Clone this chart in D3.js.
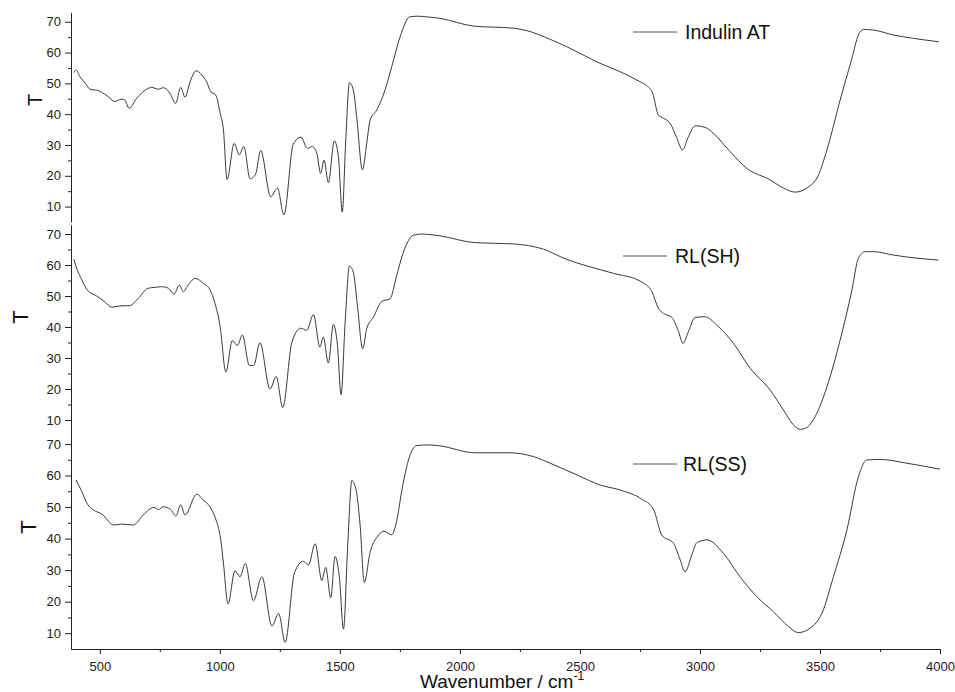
<!DOCTYPE html>
<html>
<head>
<meta charset="utf-8">
<script src="https://cdn.jsdelivr.net/npm/d3@7"></script>
<style>
body { margin: 0; background: #fff; }
svg { font-family: "Liberation Sans", Arial, sans-serif; }
</style>
</head>
<body>
<script>
// Width and height
var w = 955;
var h = 692;

// FTIR spectra, [wavenumber, T]
var indulin = [
	[392,53.5],[401,54.3],[417,52.2],[440,50],[459,48.1],[494,47.6],[530,46],[563,44.1],[591,44.9],[605,44.5],
	[622,41.9],[654,45.2],[695,48.1],[716,48.7],[744,48.1],[765,48.6],[792,46.8],[816,43.5],[837,48.7],[855,45.5],
	[876,50.5],[901,54.1],[925,52.7],[945,50.5],[962,47.3],[983,46.2],[1001,40.5],[1015,34.9],[1030,18.8],[1060,30.5],
	[1081,26.8],[1100,29.5],[1126,19.0],[1149,20.5],[1170,28.2],[1212,13.2],[1240,16.0],[1267,7.3],[1306,30.3],[1338,32.5],
	[1365,28.9],[1385,29.5],[1404,27.3],[1420,20.8],[1434,25.1],[1452,17.8],[1477,31.3],[1494,26.2],[1510,8.2],[1524,30.6],
	[1540,50.2],[1556,47.8],[1570,39.2],[1594,21.9],[1612,30.6],[1626,38.1],[1654,41.4],[1688,47.8],[1716,55.4],[1751,65.1],
	[1792,71.6],[1825,71.8],[1860,71.6],[1917,71.1],[2056,68.6],[2223,67.9],[2279,67.1],[2376,64.3],[2445,61.9],[2584,56.5],
	[2667,53.8],[2751,50.5],[2779,49.2],[2803,46.8],[2827,39.7],[2848,38.7],[2876,37.0],[2904,32.2],[2927,28.4],[2952,32.7],
	[2980,36.2],[3022,35.7],[3056,33.8],[3126,27.8],[3195,22.4],[3292,18.7],[3348,16.0],[3397,14.7],[3445,16.0],[3494,20.3],
	[3529,28.4],[3584,44.6],[3633,58.1],[3660,65.7],[3681,67.5],[3723,67.3],[3806,65.7],[3890,64.6],[3995,63.5]
];

var rlSH = [
	[392,61.8],[404,58.9],[425,55.2],[448,51.9],[487,50.0],[520,48.2],[550,46.4],[584,46.8],[626,46.9],[654,48.7],
	[702,52.5],[730,52.8],[758,53.0],[786,52.5],[809,50.6],[831,53.5],[848,51.4],[870,53.8],[897,55.7],[931,54.1],
	[959,52.0],[980,47.6],[1001,40.3],[1025,25.5],[1052,35.6],[1073,34.0],[1094,37.4],[1123,27.6],[1141,27.6],[1167,34.9],
	[1209,20.0],[1235,24.0],[1262,14.0],[1300,35.0],[1337,39.6],[1362,38.9],[1390,44.0],[1417,33.5],[1431,36.8],[1452,28.4],
	[1473,40.8],[1490,34.1],[1505,18.2],[1522,41.6],[1540,59.7],[1556,57.7],[1573,47.0],[1595,33.0],[1612,39.5],[1640,43.2],
	[1675,48.3],[1709,49.1],[1737,56.7],[1765,64.2],[1806,69.6],[1840,70.0],[1876,69.8],[1917,69.4],[2063,67.2],[2223,66.8],
	[2348,65.1],[2445,61.8],[2529,59.7],[2640,57.3],[2751,54.8],[2800,51.4],[2827,46.0],[2848,44.4],[2883,43.1],[2911,38.5],
	[2929,34.7],[2952,38.5],[2980,43.1],[3022,43.3],[3070,40.6],[3140,34.7],[3209,26.7],[3292,19.7],[3348,13.2],[3390,8.4],
	[3418,7.0],[3445,7.6],[3487,12.2],[3529,20.7],[3584,35.8],[3633,51.9],[3660,62.2],[3688,64.3],[3723,64.3],[3806,63.2],
	[3904,62.2],[3994,61.6]
];

var rlSS = [
	[401,58.6],[425,54.9],[448,51.0],[473,49.1],[508,47.8],[559,44.3],[591,44.6],[640,44.3],[681,47.5],[726,49.9],
	[744,49.2],[765,50.1],[795,49.2],[817,47.2],[837,50.7],[855,47.5],[904,54.1],[931,52.2],[959,50.1],[980,46.8],
	[1004,39.5],[1015,32.2],[1034,19.3],[1063,29.8],[1084,27.9],[1106,32.1],[1140,20.3],[1175,27.9],[1217,12.3],[1245,16.2],
	[1272,7.1],[1311,29.2],[1348,32.8],[1369,31.6],[1397,38.4],[1425,26.7],[1441,30.9],[1462,21.2],[1480,34.3],[1498,27.7],
	[1515,11.3],[1533,38.3],[1550,58.4],[1567,55.7],[1584,44.6],[1602,26.1],[1626,35.7],[1654,40.4],[1684,42.3],[1716,41.2],
	[1737,45.7],[1758,55.2],[1785,64.7],[1820,69.5],[1876,69.7],[1917,69.4],[2063,67.2],[2209,67.2],[2306,66.0],[2376,63.9],
	[2487,60.2],[2584,57.0],[2667,55.4],[2758,52.5],[2806,49.4],[2841,41.1],[2890,38.5],[2918,33.2],[2938,29.5],[2966,34.8],
	[2987,38.7],[3029,39.6],[3098,35.3],[3167,27.9],[3237,21.6],[3306,16.8],[3369,12.1],[3410,10.2],[3459,11.6],[3508,16.3],
	[3556,27.9],[3612,42.7],[3660,59.6],[3695,64.9],[3751,65.1],[3862,63.9],[4000,62.0]
];

var seriesNames = ["Indulin AT", "RL(SH)", "RL(SS)"];
var xTicks = [500, 1000, 1500, 2000, 2500, 3000, 3500, 4000];
var xMinor = [750, 1250, 1750, 2250, 2750, 3250, 3750];
var yTicks = [10, 20, 30, 40, 50, 60, 70];
var yMinor = [15, 25, 35, 45, 55, 65];

// panel layout (pixel ranges for T 5..73)
var panels = [
	{ data: indulin, bottom: 222, top: 12.5, tx: 35, ty: 100, tsize: 20, lx: [633, 677], ly: 32, textx: 685, texty: 39 },
	{ data: rlSH, bottom: 435.5, top: 224.7, tx: 20, ty: 317, tsize: 22, lx: [623, 667], ly: 256, textx: 675, texty: 263 },
	{ data: rlSS, bottom: 649, top: 434.5, tx: 28, ty: 527, tsize: 22, lx: [633, 677], ly: 464, textx: 683, texty: 471 }
];

var svg = d3.select("body")
		.append("svg")
		.attr("width", w)
		.attr("height", h);

var x = d3.scaleLinear().domain([380, 4000]).range([71, 940]);

panels.forEach(function(p, i) {
	var y = d3.scaleLinear().domain([5, 73]).range([p.bottom, p.top]);

	var ax = svg.append("g")
			.attr("transform", "translate(71,0)")
			.call(d3.axisLeft(y).tickValues(yTicks).tickSize(6).tickSizeOuter(0).tickPadding(4));
	ax.selectAll("text").attr("font-size", "13px").attr("fill", "#222");
	ax.selectAll("line,path").attr("stroke", "#222");

	var mn = svg.append("g")
			.attr("transform", "translate(71,0)")
			.call(d3.axisLeft(y).tickValues(yMinor).tickSize(3).tickSizeOuter(0).tickFormat(""));
	mn.select(".domain").remove();
	mn.selectAll("line").attr("stroke", "#222");

	svg.append("text")
			.attr("transform", "translate(" + p.tx + "," + p.ty + ") rotate(-90)")
			.attr("text-anchor", "middle")
			.attr("dy", "0.35em")
			.style("font-size", p.tsize + "px")
			.attr("fill", "#111")
			.text("T");

	var line = d3.line()
			.x(function(d) { return x(d[0]); })
			.y(function(d) { return y(d[1]); })
			.curve(d3.curveMonotoneX);

	svg.append("path")
			.datum(p.data)
			.attr("d", line)
			.attr("fill", "none")
			.attr("stroke", "#3a3a3a")
			.attr("stroke-width", 1);

	// legend
	svg.append("line")
			.attr("x1", p.lx[0]).attr("x2", p.lx[1])
			.attr("y1", p.ly).attr("y2", p.ly)
			.attr("stroke", "#555").attr("stroke-width", 1);
	svg.append("text")
			.attr("x", p.textx)
			.attr("y", p.texty)
			.attr("font-size", "19.5px")
			.attr("fill", "#111")
			.text(seriesNames[i]);
});

// bottom axis
var xa = svg.append("g")
		.attr("transform", "translate(0,649)")
		.call(d3.axisBottom(x).tickValues(xTicks).tickFormat(d3.format("d")).tickSize(5).tickSizeOuter(0).tickPadding(8));
xa.selectAll("text").attr("font-size", "13px").attr("fill", "#222");
xa.selectAll("line,path").attr("stroke", "#222");

var xm = svg.append("g")
		.attr("transform", "translate(0,649)")
		.call(d3.axisBottom(x).tickValues(xMinor).tickSize(3).tickFormat(""));
xm.select(".domain").remove();
xm.selectAll("line").attr("stroke", "#222");

var xl = svg.append("text")
		.attr("x", 420)
		.attr("y", 688)
		.attr("font-size", "19px")
		.attr("fill", "#111");
xl.append("tspan").text("Wavenumber / cm");
xl.append("tspan").attr("font-size", "12px").attr("dy", "-8").text("-1");
</script>
</body>
</html>
